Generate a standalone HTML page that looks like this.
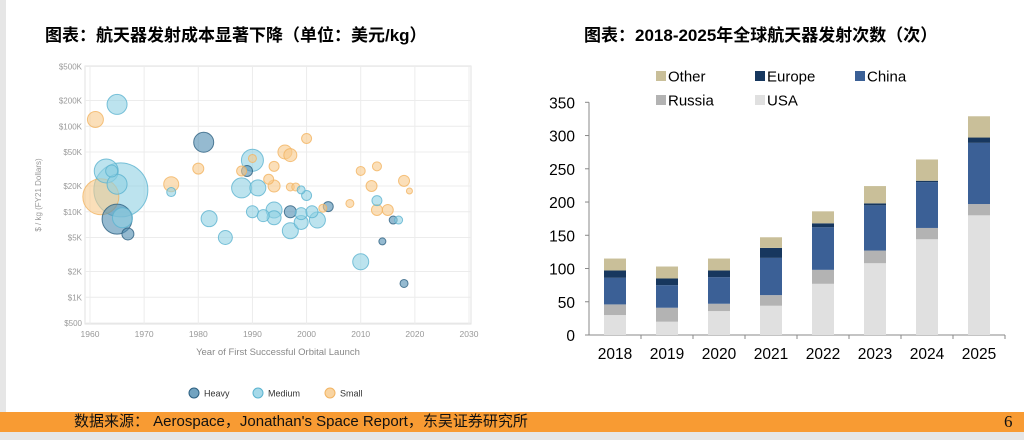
<!DOCTYPE html>
<html><head><meta charset="utf-8"><style>
body{margin:0;width:1024px;height:440px;overflow:hidden;background:#fff;position:relative;font-family:"Liberation Sans","Noto Sans CJK SC",sans-serif}
.t{position:absolute;font-weight:bold;font-size:17px;color:#000;white-space:nowrap}
</style></head><body>
<div style="position:absolute;left:0;top:0;width:6px;height:412px;background:#e6e6e6"></div>
<div class="t" style="left:45px;top:21px">图表：航天器发射成本显著下降（单位：美元/kg）</div>
<div class="t" style="left:584px;top:21px">图表：2018-2025年全球航天器发射次数（次）</div>
<svg id="left" width="1024" height="440" style="position:absolute;left:0;top:0"></svg>
<svg id="right" width="1024" height="440" style="position:absolute;left:0;top:0"></svg>
<div style="position:absolute;left:0;top:412px;width:1024px;height:20px;background:#f89b33"></div>
<div style="position:absolute;left:74px;top:412px;height:20px;line-height:20px;font-size:15px;color:#111;white-space:nowrap">数据来源： Aerospace，Jonathan's Space Report，东吴证券研究所</div>
<div style="position:absolute;left:1004px;top:412px;height:20px;line-height:20px;font-size:17px;font-family:'Liberation Serif',serif;color:#111">6</div>
<div style="position:absolute;left:0;top:432px;width:1024px;height:8px;background:#e6e6e6"></div>
<script>
const NS="http://www.w3.org/2000/svg";
function mk(p,t,a){const e=document.createElementNS(NS,t);for(const k in a)e.setAttribute(k,a[k]);p.appendChild(e);return e;}
// ---- bubble chart data ----
const bubYears=[1961,1965,1981,1963,1964,1965.7,1962,1965,1965,1966,1967,1975,1975,1980,1982,1985,1988,1989,1990,1990,1988,1991,1993,1994,1994,1996,1997,2000,1997,1998,1999,2000,1990,1992,1994,1994,1997,1997,1999,1999,2001,2002,2003,2004,2008,2010,2013,2012,2013,2013,2015,2016,2017,2014,2010,2018,2018,2019];
const bubCosts=[120000,180000,65000,30000,30000,18000,15000,21000,8200,8500,5500,21000,17000,32000,8300,5000,30000,30000,40000,42000,19000,19000,24000,20000,34000,50000,46000,72000,19500,19500,18000,15500,10000,9000,10500,8500,10000,6000,9500,7500,10000,8000,11000,11500,12500,30000,34000,20000,13500,10500,10500,8000,8000,4500,2600,1450,23000,17500];
const bubSizes=[8,10,10,12,6,27,18,10,15,10,6,7.5,4.5,5.5,8,7,5,5.5,11,4,10,8,5,6,5,7,6.5,5,4,4,4,5,6,6,8,7,6,8,6,7,6,8,4,5,4,4.5,4.5,5.5,5,5.5,5.5,4,4,3.5,8,4,5.5,3];
const bubTypes=["S","M","H","M","M","M","S","M","H","M","H","S","M","S","M","M","S","H","M","S","M","M","S","S","S","S","S","S","S","S","M","M","M","M","M","M","H","M","M","M","M","M","S","H","S","S","S","S","M","S","S","H","M","H","M","H","S","S"];
const yTickVals=[500,1000,2000,5000,10000,20000,50000,100000,200000,500000];
const yTickLabels=["$500","$1K","$2K","$5K","$10K","$20K","$50K","$100K","$200K","$500K"];
const xTicks=[1960,1970,1980,1990,2000,2010,2020,2030];
const L=document.getElementById('left');
const px=y=>90+(y-1960)*379/70;
const py=v=>323-(Math.log10(v)-Math.log10(500))*85.5;
let g=mk(L,'rect',{x:85,y:66,width:386,height:258,fill:'none',stroke:'#e2e2e2'});

yTickVals.forEach((v,i)=>{const y=py(v);
 let l=mk(L,'line',{x1:85,x2:471,y1:y,y2:y,stroke:'#ececec'});
 let t=mk(L,'text',{x:82,y:y+3,'text-anchor':'end','font-size':8,fill:'#999','font-family':'Liberation Sans'});t.textContent=yTickLabels[i];
 });
xTicks.forEach(v=>{const x=px(v);
 let l=mk(L,'line',{x1:x,x2:x,y1:66,y2:324,stroke:'#ececec'});
 let t=mk(L,'text',{x:x,y:337,'text-anchor':'middle','font-size':8.5,fill:'#999','font-family':'Liberation Sans'});t.textContent=v;
 });
let xt=mk(L,'text',{x:278,y:355,'text-anchor':'middle','font-size':9.5,fill:'#888','font-family':'Liberation Sans'});xt.textContent='Year of First Successful Orbital Launch';

let yt=mk(L,'text',{x:0,y:0,'text-anchor':'middle','font-size':8,fill:'#999','font-family':'Liberation Sans',transform:'translate(41,195) rotate(-90)'});yt.textContent='$ / kg (FY21 Dollars)';

const col={H:['#4f8cb0','#2c5f80'],M:['#8fd0e3','#5bb3cf'],S:['#f8c98a','#f2b462']};
const order=bubYears.map((_,i)=>i).sort((a,b)=>bubSizes[b]-bubSizes[a]);
order.forEach(i=>{const c=col[bubTypes[i]];
 let b=mk(L,'circle',{cx:px(bubYears[i]),cy:py(bubCosts[i]),r:bubSizes[i],fill:c[0],'fill-opacity':0.6,stroke:c[1],'stroke-opacity':0.8,'stroke-width':1});
 });
const leg=[['Heavy','H',194],['Medium','M',258],['Small','S',330]];
leg.forEach(d=>{const c=col[d[1]];
 let b=mk(L,'circle',{cx:d[2],cy:393,r:5,fill:c[0],'fill-opacity':0.8,stroke:c[1]});
 let t=mk(L,'text',{x:d[2]+10,y:396.5,'font-size':9,fill:'#333','font-family':'Liberation Sans'});t.textContent=d[0];
 });
// ---- bar chart data ----
const years=["2018","2019","2020","2021","2022","2023","2024","2025"];
const usa=[30,20,36,44,77,108,144,180];
const russia=[16,21,11,16,21,19,17,17];
const china=[40,34,40,56,64,68,69,92];
const europe=[11,10,10,15,6,3,2,8];
const other=[18,18,18,16,18,26,32,32];
const barTicks=[0,50,100,150,200,250,300,350];
const R=document.getElementById('right');
const by=v=>335-v*232.7/350;
const bx=i=>589+52*i+26;
barTicks.forEach(v=>{let t=mk(R,'text',{x:575,y:by(v)+6,'text-anchor':'end','font-size':15.5,fill:'#000','font-family':'Liberation Sans'});t.textContent=v;
 
 let l=mk(R,'line',{x1:585,x2:589,y1:by(v),y2:by(v),stroke:'#888'});});
let ax=mk(R,'line',{x1:589,x2:589,y1:by(350),y2:335,stroke:'#888'});
let ax2=mk(R,'line',{x1:589,x2:1005,y1:335,y2:335,stroke:'#888'});
const series=[['usa',usa,'#e0e0e0'],['russia',russia,'#b3b3b3'],['china',china,'#3b6096'],['europe',europe,'#17375e'],['other',other,'#c9bf99']];
years.forEach((yr,i)=>{let base=0;
 series.forEach(s=>{const v=s[1][i];
  let r=mk(R,'rect',{x:bx(i)-11,y:by(base+v),width:22,height:by(base)-by(base+v),fill:s[2]});
  base+=v;});
 let tk=mk(R,'line',{x1:589+52*(i+1),x2:589+52*(i+1),y1:335,y2:339,stroke:'#888'});
 let t=mk(R,'text',{x:bx(i),y:359,'text-anchor':'middle','font-size':15.5,fill:'#000','font-family':'Liberation Sans'});t.textContent=yr;
 });
const bleg=[['Other','#c9bf99',656,76],['Europe','#17375e',755,76],['China','#3b6096',855,76],['Russia','#b3b3b3',656,100],['USA','#e0e0e0',755,100]];
bleg.forEach(d=>{let r=mk(R,'rect',{x:d[2],y:d[3]-5,width:10,height:10,fill:d[1]});
 let t=mk(R,'text',{x:d[2]+12,y:d[3]+5.5,'font-size':15,fill:'#000','font-family':'Liberation Sans'});t.textContent=d[0];
 });
</script>
</body></html>
